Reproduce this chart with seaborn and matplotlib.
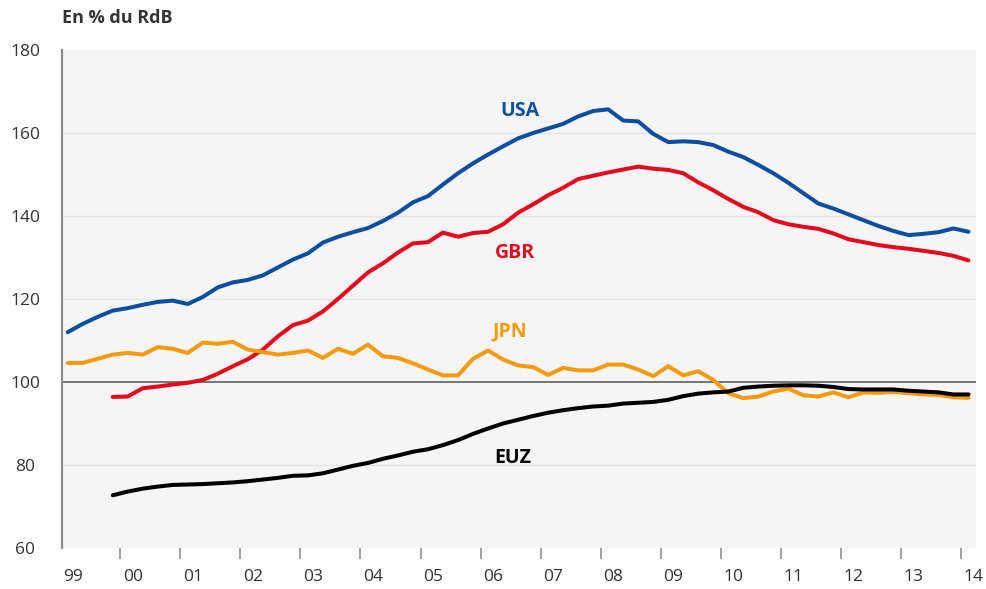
import numpy as np
import pandas as pd
import matplotlib
matplotlib.use("Agg")
import matplotlib.pyplot as plt
import seaborn as sns

# ---------------- data (quarterly, 1999Q1 .. 2014Q1) ----------------
usa = [112.0, 114.0, 115.7, 117.2, 117.8, 118.6, 119.3, 119.6, 118.8, 120.5,
       122.8, 124.0, 124.6, 125.7, 127.6, 129.5, 131.0, 133.6, 135.0, 136.1,
       137.1, 138.8, 140.8, 143.3, 144.8, 147.6, 150.3, 152.7, 154.8, 156.8,
       158.7, 160.0, 161.1, 162.2, 164.0, 165.3, 165.7, 163.0, 162.8, 159.8,
       157.8, 158.0, 157.8, 157.1, 155.5, 154.2, 152.3, 150.3, 148.0, 145.5,
       143.0, 141.8, 140.4, 139.0, 137.6, 136.4, 135.4, 135.7, 136.1, 137.0,
       136.2]
jpn = [104.6, 104.6, 105.6, 106.6, 107.0, 106.6, 108.4, 108.0, 107.0, 109.5,
       109.2, 109.7, 107.8, 107.2, 106.6, 107.0, 107.6, 105.8, 108.0, 106.8,
       109.0, 106.2, 105.8, 104.5, 103.0, 101.6, 101.6, 105.6, 107.6, 105.4,
       104.0, 103.6, 101.7, 103.4, 102.8, 102.8, 104.2, 104.2, 103.0, 101.4,
       103.8, 101.6, 102.6, 100.5, 97.3, 96.1, 96.5, 97.7, 98.4, 96.8,
       96.5, 97.5, 96.3, 97.5, 97.4, 97.6, 97.3, 97.0, 96.9, 96.3,
       96.2]
# GBR and EUZ start in 1999Q4
gbr = [96.4, 96.5, 98.5, 98.9, 99.4, 99.8, 100.5, 102.0, 103.8, 105.5,
       107.8, 111.0, 113.7, 114.8, 117.0, 120.0, 123.2, 126.4, 128.6, 131.2,
       133.4, 133.7, 136.0, 135.0, 135.9, 136.2, 138.0, 140.8, 142.8, 145.0,
       146.8, 148.9, 149.7, 150.5, 151.2, 151.9, 151.4, 151.1, 150.3, 148.1,
       146.2, 144.1, 142.2, 140.9, 139.0, 138.0, 137.4, 136.9, 135.8, 134.4,
       133.7, 133.0, 132.5, 132.1, 131.6, 131.1, 130.4, 129.3]
euz = [72.7, 73.6, 74.3, 74.8, 75.2, 75.3, 75.4, 75.6, 75.8, 76.1,
       76.5, 76.9, 77.4, 77.5, 78.0, 78.9, 79.8, 80.5, 81.5, 82.3,
       83.2, 83.8, 84.8, 86.0, 87.5, 88.8, 90.0, 90.9, 91.8, 92.6,
       93.2, 93.7, 94.1, 94.3, 94.8, 95.0, 95.2, 95.7, 96.6, 97.2,
       97.5, 97.7, 98.6, 98.9, 99.1, 99.2, 99.2, 99.1, 98.8, 98.3,
       98.2, 98.2, 98.2, 97.9, 97.7, 97.5, 97.0, 97.0]

series_names = ["USA", "GBR", "JPN", "EUZ"]
year_labels = ["99", "00", "01", "02", "03", "04", "05", "06", "07",
               "08", "09", "10", "11", "12", "13", "14"]
y_ticks = [60, 80, 100, 120, 140, 160, 180]

# quarter midpoints
t_all = 1999.125 + 0.25 * np.arange(len(usa))
t_late = t_all[len(usa) - len(gbr):]

frames = [
    pd.DataFrame({"t": t_all, "v": usa, "serie": "USA"}),
    pd.DataFrame({"t": t_late, "v": gbr, "serie": "GBR"}),
    pd.DataFrame({"t": t_all, "v": jpn, "serie": "JPN"}),
    pd.DataFrame({"t": t_late, "v": euz, "serie": "EUZ"}),
]
df = pd.concat(frames, ignore_index=True)

colors = {"USA": "#0d4ea0", "GBR": "#e30a1e", "JPN": "#f59a0c", "EUZ": "#000000"}

# ---------------- style ----------------
sns.set_theme(style="white")
plt.rcParams["font.family"] = ["Open Sans", "DejaVu Sans"]

fig = plt.figure(figsize=(9.86, 5.89), dpi=100)
ax = fig.add_axes([62 / 986, 41 / 589, 914 / 986, 498 / 589])
ax.set_facecolor("#f5f5f5")

for yv in [80, 120, 140, 160]:
    ax.axhline(yv, color="#e4e4e4", lw=1.0, zorder=0)
ax.axhline(100, color="#6a6a6a", lw=1.3, zorder=1)

sns.lineplot(data=df, x="t", y="v", hue="serie", hue_order=series_names,
             palette=colors, linewidth=2.9, legend=False, ax=ax, zorder=3)

ax.set_xlim(1999.03, 2014.25)
ax.set_ylim(60, 180)

# x: tick marks at year starts, labels slightly to the right
ax.set_xticks(np.arange(2000, 2015))
ax.set_xticklabels([])
ax.tick_params(axis="x", which="major", direction="out", length=8, width=1.3,
               color="#999999", bottom=True, pad=2)
lbl_pos = 1999.21 + np.arange(len(year_labels))
ax.set_xticks(lbl_pos, minor=True)
ax.set_xticklabels(year_labels, minor=True)
ax.tick_params(axis="x", which="minor", length=0, pad=15, labelsize=12.5,
               labelcolor="#333333")

ax.set_yticks(y_ticks)
ax.set_yticklabels([str(v) for v in y_ticks])
ax.tick_params(axis="y", length=0, pad=26.5, labelsize=12.5, labelcolor="#333333")
for lab in ax.get_yticklabels():
    lab.set_horizontalalignment("center")

ax.set_xlabel("")
ax.set_ylabel("")
for s in ["top", "right", "bottom"]:
    ax.spines[s].set_visible(False)
ax.spines["left"].set_color("#8c8c8c")
ax.spines["left"].set_linewidth(1.6)

# series labels
label_pos = {"USA": (2006.65, 165.3), "GBR": (2006.57, 131.2),
             "JPN": (2006.48, 112.2), "EUZ": (2006.53, 81.6)}
for name in series_names:
    x, y = label_pos[name]
    ax.text(x, y, name, color=colors[name], fontsize=14, fontweight="bold",
            ha="center", va="center", zorder=4)

fig.text(62 / 986, 1 - 18 / 589, "En % du RdB", fontsize=13,
         fontweight="bold", color="#333333", ha="left", va="center")

fig.savefig("out.png", dpi=100, facecolor="white")
